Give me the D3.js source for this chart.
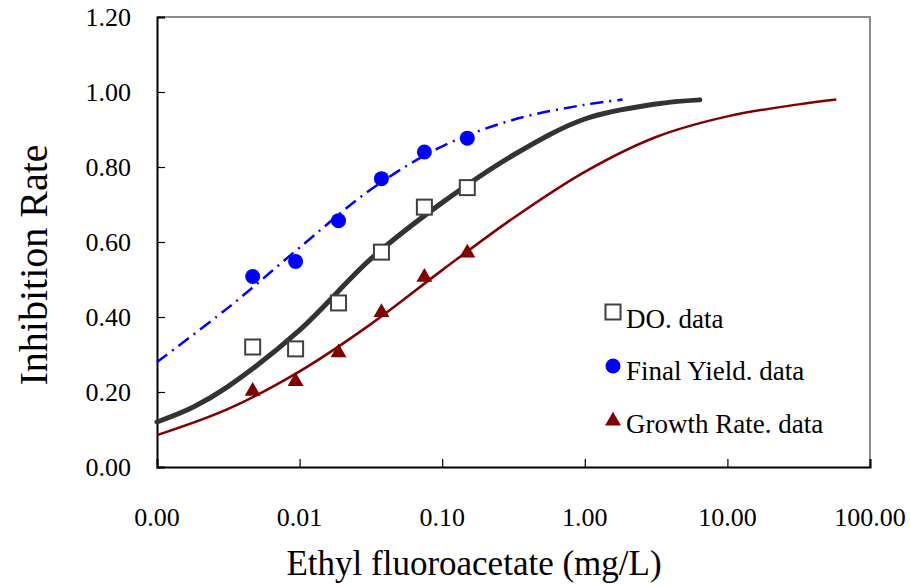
<!DOCTYPE html>
<html>
<head>
<meta charset="utf-8">
<script src="https://cdn.jsdelivr.net/npm/d3@7"></script>
<style>
body { margin: 0; background: #fff; }
</style>
</head>
<body>
<svg width="910" height="586"></svg>
<script>
// measured concentrations (mg/L) and inhibition rates
var concentrations = [0.0046875, 0.009375, 0.01875, 0.0375, 0.075, 0.15];
var doData = [0.32, 0.315, 0.4375, 0.573, 0.693, 0.745];
var yieldData = [0.508, 0.548, 0.657, 0.769, 0.84, 0.877];
var growthData = [0.202, 0.228, 0.305, 0.412, 0.506, 0.571];

// fitted curves at half-decade steps
var doFitX = [0.001, 0.0018, 0.00316, 0.01, 0.0316, 0.1, 0.316, 1, 3.16, 6.4];
var doFitY = [0.12, 0.16, 0.215, 0.365, 0.555, 0.705, 0.832, 0.928, 0.968, 0.979];
var yieldFitX = [0.001, 0.00316, 0.01, 0.0316, 0.1, 0.316, 1, 1.84];
var yieldFitY = [0.28, 0.425, 0.585, 0.74, 0.855, 0.926, 0.966, 0.98];
var growthFitX = [0.001, 0.00316, 0.01, 0.0316, 0.1, 0.316, 1, 3.16, 10, 31.6, 58];
var growthFitY = [0.085, 0.155, 0.255, 0.381, 0.525, 0.664, 0.787, 0.88, 0.935, 0.967, 0.98];

var xTicks = [0.001, 0.01, 0.1, 1, 10, 100];
var xTickLabels = ["0.00", "0.01", "0.10", "1.00", "10.00", "100.00"];
var yTicks = [0, 0.2, 0.4, 0.6, 0.8, 1.0, 1.2];

var font = "Liberation Serif";

var svg = d3.select("svg"),
    margin = {top: 17, right: 40, bottom: 119, left: 157},
    width = +svg.attr("width") - margin.left - margin.right,
    height = +svg.attr("height") - margin.top - margin.bottom;

var x = d3.scaleLog().domain([0.001, 100]).range([0, width]),
    y = d3.scaleLinear().domain([0, 1.2]).range([height, 0]);

var g = svg.append("g")
    .attr("transform", "translate(" + margin.left + "," + margin.top + ")");

// grey top / right frame
g.append("path")
    .attr("d", "M0,0H" + width + "V" + height)
    .attr("fill", "none")
    .attr("stroke", "#8c8c8c")
    .attr("stroke-width", 2);

// x axis, ticks pointing inward
var xAxis = g.append("g")
    .attr("transform", "translate(0," + height + ")")
    .call(d3.axisTop(x).tickValues(xTicks).tickSize(8).tickFormat(""));
xAxis.select(".domain").attr("stroke", "#000").attr("stroke-width", 2);
xAxis.selectAll(".tick line").attr("stroke", "#000").attr("stroke-width", 1.2);

g.selectAll(".xlab")
    .data(xTicks)
    .enter().append("text")
    .attr("class", "xlab")
    .attr("x", function (d) { return x(d); })
    .attr("y", height + 59)
    .attr("text-anchor", "middle")
    .attr("font-family", font)
    .attr("font-size", 26)
    .text(function (d, i) { return xTickLabels[i]; });

// y axis, ticks pointing inward
var yAxis = g.append("g")
    .call(d3.axisRight(y).tickValues(yTicks).tickSize(8).tickFormat(""));
yAxis.select(".domain").attr("stroke", "#000").attr("stroke-width", 2);
yAxis.selectAll(".tick line").attr("stroke", "#000").attr("stroke-width", 1.2);

g.selectAll(".ylab")
    .data(yTicks)
    .enter().append("text")
    .attr("class", "ylab")
    .attr("x", -26)
    .attr("y", function (d) { return y(d) + 9; })
    .attr("text-anchor", "end")
    .attr("font-family", font)
    .attr("font-size", 26)
    .text(function (d) { return d.toFixed(2); });

// axis titles
svg.append("text")
    .attr("x", 474)
    .attr("y", 575)
    .attr("text-anchor", "middle")
    .attr("font-family", font)
    .attr("font-size", 35)
    .text("Ethyl fluoroacetate (mg/L)");

svg.append("text")
    .attr("transform", "translate(47,265) rotate(-90)")
    .attr("text-anchor", "middle")
    .attr("font-family", font)
    .attr("font-size", 40)
    .text("Inhibition Rate");

// fitted lines
var line = d3.line()
    .x(function (d) { return x(d[0]); })
    .y(function (d) { return y(d[1]); })
    .curve(d3.curveCatmullRom.alpha(0.5));

g.append("path")
    .datum(d3.zip(growthFitX, growthFitY))
    .attr("fill", "none")
    .attr("stroke", "#800000")
    .attr("stroke-width", 2.5)
    .attr("d", line);

g.append("path")
    .datum(d3.zip(yieldFitX, yieldFitY))
    .attr("fill", "none")
    .attr("stroke", "#0000ff")
    .attr("stroke-width", 2.5)
    .attr("stroke-dasharray", "13,6,2,6")
    .attr("d", line);

g.append("path")
    .datum(d3.zip(doFitX, doFitY))
    .attr("fill", "none")
    .attr("stroke", "#333")
    .attr("stroke-width", 5)
    .attr("stroke-linecap", "round")
    .attr("d", line);

// markers
var tri = d3.symbol().type(d3.symbolTriangle).size(110);

g.selectAll(".tri")
    .data(d3.zip(concentrations, growthData))
    .enter().append("path")
    .attr("class", "tri")
    .attr("d", tri)
    .attr("transform", function (d) { return "translate(" + x(d[0]) + "," + y(d[1]) + ")"; })
    .attr("fill", "#800000");

g.selectAll(".dot")
    .data(d3.zip(concentrations, yieldData))
    .enter().append("circle")
    .attr("class", "dot")
    .attr("cx", function (d) { return x(d[0]); })
    .attr("cy", function (d) { return y(d[1]); })
    .attr("r", 7.5)
    .attr("fill", "#0000ff");

g.selectAll(".sq")
    .data(d3.zip(concentrations, doData))
    .enter().append("rect")
    .attr("class", "sq")
    .attr("x", function (d) { return x(d[0]) - 7.5; })
    .attr("y", function (d) { return y(d[1]) - 7.5; })
    .attr("width", 15)
    .attr("height", 15)
    .attr("fill", "#fff")
    .attr("stroke", "#404040")
    .attr("stroke-width", 2);

// legend
var legend = svg.append("g").attr("transform", "translate(613,0)");
legend.append("rect")
    .attr("x", -7.5).attr("y", 304.5)
    .attr("width", 15).attr("height", 15)
    .attr("fill", "#fff").attr("stroke", "#404040").attr("stroke-width", 2);
legend.append("circle")
    .attr("cx", 0).attr("cy", 366).attr("r", 7.5)
    .attr("fill", "#0000ff");
legend.append("path")
    .attr("d", tri)
    .attr("transform", "translate(0,421)")
    .attr("fill", "#800000");

var legendLabels = ["DO. data", "Final Yield. data", "Growth Rate. data"];
var legendBase = [328, 380, 433];
legend.selectAll(".ltext")
    .data(legendLabels)
    .enter().append("text")
    .attr("class", "ltext")
    .attr("x", 13)
    .attr("y", function (d, i) { return legendBase[i]; })
    .attr("font-family", font)
    .attr("font-size", 27)
    .text(function (d) { return d; });
</script>
</body>
</html>
